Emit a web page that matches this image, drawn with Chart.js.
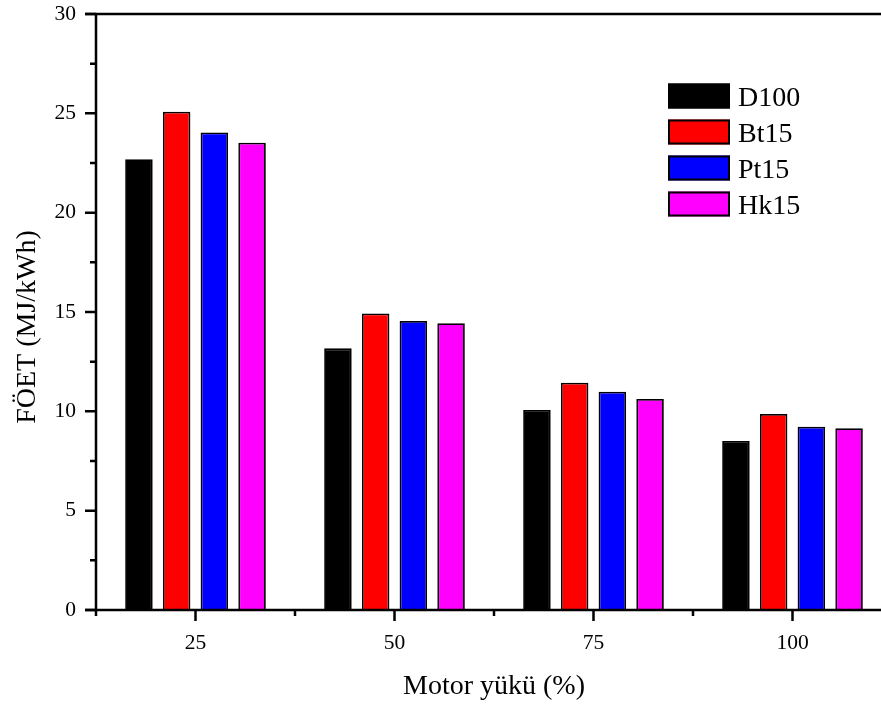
<!DOCTYPE html>
<html>
<head>
<meta charset="utf-8">
<script src="https://cdn.jsdelivr.net/npm/chart.js@4/dist/chart.umd.min.js"></script>
<style>
  html, body { margin: 0; padding: 0; background: #fff; overflow: hidden; }
  #wrap { width: 893px; height: 705px; }
</style>
</head>
<body>
<div id="wrap"><canvas id="c" width="893" height="705"></canvas></div>
<script>
// Engine load (%) categories and specific energy consumption per fuel blend
const loads = ['25', '50', '75', '100'];
const seriesNames = ['D100', 'Bt15', 'Pt15', 'Hk15'];
const d100 = [22.69, 13.17, 10.07, 8.51];
const bt15 = [25.08, 14.93, 11.44, 9.87];
const pt15 = [24.04, 14.55, 10.99, 9.23];
const hk15 = [23.52, 14.43, 10.62, 9.15];
const yTicks = [0, 5, 10, 15, 20, 25, 30];
const xTitle = 'Motor yükü (%)';
const yTitle = 'FÖET (MJ/kWh)';

const colors = ['#000000', '#ff0000', '#0000ff', '#ff00ff'];
const values = [d100, bt15, pt15, hk15];
const FONT = '"Liberation Serif", "Times New Roman", serif';

// Axis frame, major/minor ticks, y title and the legend block
const framePlugin = {
  id: 'frame',
  afterDraw(chart) {
    const { ctx, chartArea: a, scales } = chart;
    const y = scales.y, x = scales.x;
    ctx.save();
    ctx.strokeStyle = '#000';
    ctx.lineWidth = 2.5;
    ctx.lineCap = 'butt';
    // axes lines and top border
    ctx.beginPath();
    ctx.moveTo(a.left, a.top - 1.25); ctx.lineTo(a.left, a.bottom + 1.25);
    ctx.moveTo(a.left - 11, a.bottom); ctx.lineTo(a.right, a.bottom);
    ctx.moveTo(a.left - 11, a.top); ctx.lineTo(a.right, a.top);
    ctx.stroke();
    // y ticks: major every 5, minor every 2.5
    ctx.beginPath();
    for (let v = 0; v <= 30; v += 2.5) {
      const py = y.getPixelForValue(v);
      const len = (v % 5 === 0) ? 11 : 6;
      ctx.moveTo(a.left - len, py); ctx.lineTo(a.left, py);
    }
    // x ticks: major at category centres, minor at boundaries
    const n = loads.length;
    const w = (a.right - a.left) / n;
    for (let i = 0; i < n; i++) {
      const px = x.getPixelForValue(i);
      ctx.moveTo(px, a.bottom); ctx.lineTo(px, a.bottom + 11);
    }
    for (let i = 0; i < n; i++) {
      const px = x.getPixelForValue(i) - w / 2;
      ctx.moveTo(px, a.bottom); ctx.lineTo(px, a.bottom + 6);
    }
    ctx.stroke();

    // y axis title, rotated
    ctx.save();
    ctx.translate(28, 327);
    ctx.rotate(-Math.PI / 2);
    ctx.font = '28px ' + FONT;
    ctx.fillStyle = '#000';
    ctx.textAlign = 'center';
    ctx.textBaseline = 'middle';
    ctx.fillText(yTitle, 0, 0);
    ctx.restore();

    // legend
    const bx = 668, bw = 62, bh = 25, top0 = 83.5, step = 36;
    ctx.font = '28px ' + FONT;
    ctx.textBaseline = 'alphabetic';
    ctx.textAlign = 'left';
    chart.data.datasets.forEach((ds, i) => {
      const ty = top0 + i * step;
      ctx.fillStyle = ds.backgroundColor;
      ctx.fillRect(bx, ty, bw, bh);
      ctx.lineWidth = 2;
      ctx.strokeStyle = '#000';
      ctx.strokeRect(bx + 1, ty + 1, bw - 2, bh - 2);
      ctx.fillStyle = '#000';
      ctx.fillText(ds.label, bx + bw + 8, ty + bh / 2 + 10);
    });
    ctx.restore();
  }
};

new Chart(document.getElementById('c'), {
  type: 'bar',
  data: {
    labels: loads,
    datasets: seriesNames.map((name, i) => ({
      label: name,
      data: values[i],
      backgroundColor: colors[i],
      borderColor: '#000',
      borderWidth: 1.8,
      categoryPercentage: 0.758,
      barPercentage: 0.73
    }))
  },
  options: {
    responsive: false,
    devicePixelRatio: 1,
    animation: false,
    layout: { padding: { top: 14, right: 1, left: 0, bottom: 0 } },
    plugins: { legend: { display: false }, tooltip: { enabled: false } },
    scales: {
      x: {
        offset: true,
        grid: { display: false, drawTicks: false },
        border: { display: false },
        ticks: { color: '#000', font: { family: FONT, size: 21.5 }, padding: 20, maxRotation: 0 },
        title: { display: true, text: xTitle, color: '#000',
                 font: { family: FONT, size: 28 }, padding: { top: 0, bottom: 2 } },
        afterFit(s) { s.height = 95; s.paddingLeft = 0; s.paddingRight = 0; }
      },
      y: {
        min: 0, max: 30,
        afterBuildTicks(s) { s.ticks = yTicks.map(v => ({ value: v })); },
        grid: { display: false, drawTicks: false },
        border: { display: false },
        ticks: { color: '#000', font: { family: FONT, size: 21.5 }, padding: 20 },
        title: { display: false },
        afterFit(s) { s.width = 96; s.paddingTop = 0; s.paddingBottom = 0; }
      }
    }
  },
  plugins: [framePlugin]
});
</script>
</body>
</html>
